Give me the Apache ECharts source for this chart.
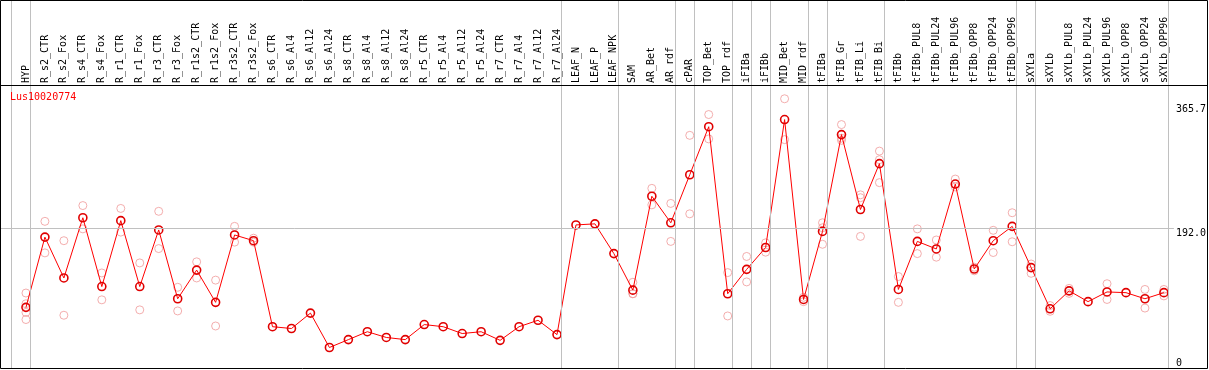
<!DOCTYPE html>
<html><head><meta charset="utf-8">
<script src="https://cdn.jsdelivr.net/npm/echarts@6/dist/echarts.min.js"></script>
<style>html,body{margin:0;padding:0;background:#fff}#c{width:1209px;height:370px}</style>
</head><body><div id="c"></div>
<script>
const chartTitle = 'Lus10020774';
const categories = ['HYP','R_s2_CTR','R_s2_Fox','R_s4_CTR','R_s4_Fox','R_r1_CTR','R_r1_Fox','R_r3_CTR','R_r3_Fox','R_r1s2_CTR','R_r1s2_Fox','R_r3s2_CTR','R_r3s2_Fox','R_s6_CTR','R_s6_Al4','R_s6_Al12','R_s6_Al24','R_s8_CTR','R_s8_Al4','R_s8_Al12','R_s8_Al24','R_r5_CTR','R_r5_Al4','R_r5_Al12','R_r5_Al24','R_r7_CTR','R_r7_Al4','R_r7_Al12','R_r7_Al24','LEAF_N','LEAF_P','LEAF_NPK','SAM','AR_Bet','AR_rdf','cPAR','TOP_Bet','TOP_rdf','iFIBa','iFIBb','MID_Bet','MID_rdf','tFIBa','tFIB_Gr','tFIB_Li','tFIB_Bi','tFIBb','tFIBb_PUL8','tFIBb_PUL24','tFIBb_PUL96','tFIBb_OPP8','tFIBb_OPP24','tFIBb_OPP96','sXYLa','sXYLb','sXYLb_PUL8','sXYLb_PUL24','sXYLb_PUL96','sXYLb_OPP8','sXYLb_OPP24','sXYLb_OPP96'];
const means = [82,180,123,207,111,203,111,190,94,134,89,183,175,55,52.5,74,26,37,48,40,37,58,55,45.5,48,36,55,64,44,197,198.5,157,106,237,200,267,334,101,135,165.5,344,93,188,323,218.5,282.5,107,174,163.5,254,135.5,175,195,137.5,80,105,90,103.5,102.5,94,102.5];
const replicates = [
  [102,87,75,65],[202,158],[175,71],[224,191.5],[130,92.5],[220,187],[144,78.5],[216,164],[110,77],[145.5,123],[120,56],[195,173],[178.5,173],
  [],[],[],[],[],[],[],[],[],[],[],[],[],[],[],[],[],[],[],
  [117,101,101],[248,225],[227,174],[322,212.5],[351,317],[130.5,70],[153,117.5],[172,159],[373,316],[96,90],[200,193,170],[337,318,315],[239,235,181],[300,288,256],[125,89],[191.5,157],[176,152],[261,250],[138,133],[189.5,158.5],[214,173.5],[142.5,129.5],[84.5,76.5],[108.5,101.5],[],[115,93],[],[107,81],[107,98]
];
const yTickValues = [0, 192.0, 365.7];
const groupSeparators = [-1,0,28,31,34,35,37,38,39,41,42,45,52,53,60];

const FONT = 'DejaVu Sans Mono';
const sepOffset = 4.5/19;
const repData = [];
replicates.forEach((arr,i)=>arr.forEach(v=>repData.push([i,v])));

const chart = echarts.init(document.getElementById('c'), null, {renderer:'canvas'});
chart.setOption({
  animation:false,
  backgroundColor:'#fff',
  title:{text:chartTitle,left:10,top:92,padding:0,textStyle:{color:'#ff0000',fontSize:10,fontWeight:'normal',fontFamily:FONT}},
  grid:{left:1,right:33,top:0,bottom:2,containLabel:false},
  xAxis:{type:'value',min:-1.3158,max:60.5263,position:'top',offset:-85,
    axisLine:{show:false},axisTick:{show:false},splitLine:{show:false},
    axisLabel:{customValues:categories.map((_,i)=>i),formatter:v=>categories[Math.round(v)]||'',rotate:90,margin:2,
      fontFamily:FONT,fontSize:10,color:'#000',hideOverlap:false}},
  yAxis:{type:'value',min:-2.6,max:510.8,position:'right',
    axisLine:{show:false},axisTick:{show:false},splitLine:{show:false},
    axisLabel:{customValues:yTickValues,margin:2,align:'left',verticalAlign:'middle',
      fontFamily:FONT,fontSize:10,color:'#000',
      formatter:v=> v===0 ? '{z|0}' : '{t|'+v.toFixed(1)+'}',
      rich:{t:{fontFamily:FONT,fontSize:10,color:'#000',padding:[10,0,0,0]},
            z:{fontFamily:FONT,fontSize:10,color:'#000',padding:[0,0,6,0]}}}},
  graphic:[
    {type:'rect',shape:{x:0.5,y:0.5,width:1207,height:368},style:{fill:null,stroke:'#000',lineWidth:1},silent:true,z:100},
    {type:'line',shape:{x1:0,y1:85.5,x2:1208,y2:85.5},style:{stroke:'#000',lineWidth:1},silent:true,z:100}
  ],
  series:[
    {type:'line',data:[],silent:true,z:1,
      markLine:{silent:true,symbol:['none','none'],label:{show:false},
        lineStyle:{color:'#c0c0c0',type:'solid',width:1},
        data:[{yAxis:192}].concat(groupSeparators.map(g=>({xAxis:g+sepOffset})))}},
    {type:'scatter',data:repData,symbol:'circle',symbolSize:8,silent:true,z:2,
      itemStyle:{color:'rgba(0,0,0,0)',borderColor:'#f09a9a',borderWidth:1}},
    {type:'line',data:means.map((v,i)=>[i,v]),symbol:'circle',symbolSize:8,silent:true,z:3,
      lineStyle:{color:'#ff0000',width:1},
      itemStyle:{color:'rgba(0,0,0,0)',borderColor:'#e00000',borderWidth:1.6}}
  ]
});
</script></body></html>
